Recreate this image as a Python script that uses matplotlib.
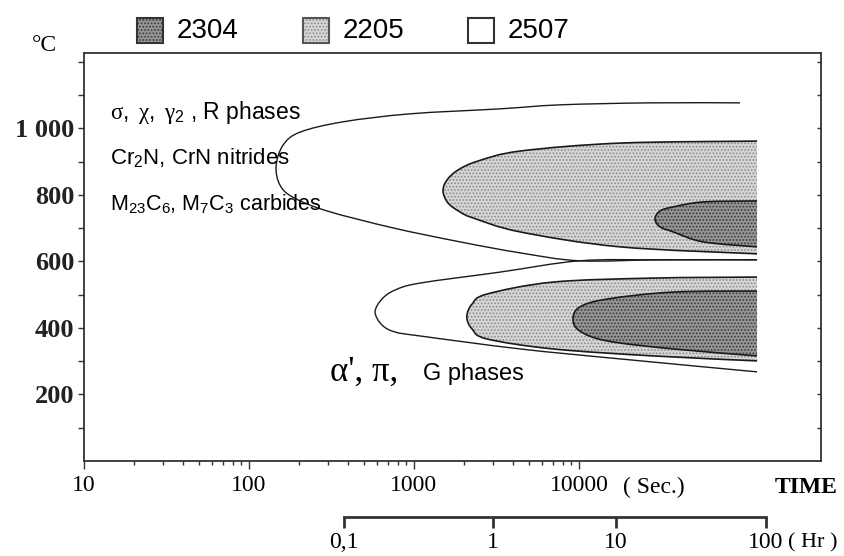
import matplotlib
matplotlib.use("Agg")
import numpy as np
import matplotlib.pyplot as plt
from matplotlib.patches import Rectangle, PathPatch
from matplotlib.path import Path
from matplotlib.ticker import FixedLocator, NullFormatter

plt.rcParams['mathtext.fontset'] = 'custom'
plt.rcParams['mathtext.rm'] = 'Liberation Sans'
plt.rcParams['mathtext.it'] = 'Liberation Serif'
plt.rcParams['mathtext.bf'] = 'Liberation Sans:bold'
plt.rcParams['hatch.linewidth'] = 0.8

# time in seconds, temperature in degC (nose first, then towards long times)
u2507_top_t = [146, 161, 204, 372, 946, 3320, 7670, 26900, 94600]
u2507_top_T = [887, 950, 989, 1020, 1044, 1059, 1071, 1077, 1077]
u2507_bot_t = [146, 154, 185, 297, 746, 1900, 4390, 10100, 31000, 120000]
u2507_bot_T = [887, 830, 793, 752, 701, 659, 626, 602, 605, 605]

u2205_top_t = [1500, 1585, 1848, 2443, 4390, 17700, 120000]
u2205_top_T = [812, 845, 875, 902, 932, 956, 962]
u2205_bot_t = [1500, 1607, 1900, 2280, 4390, 17700, 120000]
u2205_bot_T = [812, 776, 749, 731, 689, 644, 623]

u2304_top_t = [28900, 31000, 37200, 56500, 120000]
u2304_top_T = [728, 752, 764, 779, 782]
u2304_bot_t = [28900, 31000, 37200, 56500, 120000]
u2304_bot_T = [728, 704, 689, 659, 644]

l2507_top_t = [581, 640, 767, 1087, 3320, 10100, 31000, 120000]
l2507_top_T = [448, 487, 514, 535, 568, 602, 605, 605]
l2507_bot_t = [581, 640, 767, 1087, 4390, 17700, 120000]
l2507_bot_T = [448, 409, 388, 376, 337, 307, 268]

l2205_top_t = [2090, 2250, 2770, 6950, 28100, 120000]
l2205_top_T = [433, 472, 502, 538, 550, 553]
l2205_bot_t = [2090, 2250, 2770, 6950, 28100, 120000]
l2205_bot_T = [433, 397, 367, 337, 316, 301]

l2304_top_t = [9200, 10100, 14800, 37200, 120000]
l2304_top_T = [427, 463, 487, 508, 511]
l2304_bot_t = [9200, 10100, 14800, 37200, 120000]
l2304_bot_T = [427, 391, 361, 337, 316]

grades = ['2304', '2205', '2507']
sec_ticks = [10, 100, 1000, 10000]
sec_labels = ['10', '100', '1000', '10000']
temp_ticks = [200, 400, 600, 800, 1000]
temp_labels = ['200', '400', '600', '800', '1 000']
hr_labels = ['0,1', '1', '10', '100']
hr_tick_sec = [377, 3010, 16700, 136000]   # where the hour marks sit on the time scale

styles = {
    '2304': dict(fc='#959595', hc='#383838'),
    '2205': dict(fc='#d6d6d6', hc='#8a8a8a'),
    '2507': dict(fc='white', hc='white'),
}
line_col = '#1a1a1a'

fig = plt.figure(figsize=(8.45, 5.56), dpi=100)
ax = fig.add_axes([0.0994, 0.1709, 0.8722, 0.7338])


def smooth_path(ts, Ts):
    # Catmull-Rom through the read points, done in (log t, T) space
    P = np.column_stack([np.log10(ts), np.asarray(Ts, float)])
    n = len(P)
    verts, codes = [P[0]], [Path.MOVETO]
    for i in range(n - 1):
        p0, p1, p2, p3 = P[max(i - 1, 0)], P[i], P[i + 1], P[min(i + 2, n - 1)]
        verts += [p1 + (p2 - p0) / 6, p2 - (p3 - p1) / 6, p2]
        codes += [Path.CURVE4] * 3
    verts = np.array(verts)
    verts[:, 0] = 10 ** verts[:, 0]
    return Path(verts, codes)


def region(top_t, top_T, bot_t, bot_T, grade, lw=1.2):
    st = styles[grade]
    path = smooth_path(top_t[::-1] + bot_t[1:], top_T[::-1] + bot_T[1:])
    if grade != '2507':
        ax.add_patch(PathPatch(path, facecolor=st['fc'], edgecolor=st['hc'],
                               hatch='.....', linewidth=0))
    ax.add_patch(PathPatch(path, fill=False, edgecolor=line_col, linewidth=lw))


region(u2507_top_t, u2507_top_T, u2507_bot_t, u2507_bot_T, '2507', lw=1.0)
region(l2507_top_t, l2507_top_T, l2507_bot_t, l2507_bot_T, '2507', lw=1.0)
region(u2205_top_t, u2205_top_T, u2205_bot_t, u2205_bot_T, '2205')
region(l2205_top_t, l2205_top_T, l2205_bot_t, l2205_bot_T, '2205')
region(u2304_top_t, u2304_top_T, u2304_bot_t, u2304_bot_T, '2304')
region(l2304_top_t, l2304_top_T, l2304_bot_t, l2304_bot_T, '2304')

ax.set_xscale('log')
ax.set_xlim(10, 293000)
ax.set_ylim(0, 1227)

for s in ax.spines.values():
    s.set_color('#333333')
    s.set_linewidth(1.3)

ax.xaxis.set_major_locator(FixedLocator(sec_ticks))
ax.xaxis.set_minor_locator(FixedLocator([k * 10 ** d for d in range(1, 4) for k in range(2, 10)]))
ax.xaxis.set_minor_formatter(NullFormatter())
ax.set_xticklabels(sec_labels, family='Liberation Serif', fontsize=17)
ax.tick_params(axis='x', which='major', direction='out', length=6, width=1, pad=4, color='#333333')
ax.tick_params(axis='x', which='minor', direction='out', length=3, width=1, color='#333333')

ax.yaxis.set_major_locator(FixedLocator(temp_ticks))
ax.yaxis.set_minor_locator(FixedLocator(list(range(100, 1300, 100))))
ax.set_yticklabels(temp_labels, family='Liberation Serif', fontsize=19, fontweight='bold', color='#222222')
ax.tick_params(axis='y', which='both', direction='out', length=4, width=1, pad=3, color='#333333')

# inward ticks on the right spine
axr = ax.twinx()
axr.set_ylim(ax.get_ylim())
axr.yaxis.set_major_locator(FixedLocator(list(range(100, 1300, 100))))
axr.tick_params(axis='y', direction='in', length=3, width=1, labelright=False, color='#333333')
for s in axr.spines.values():
    s.set_visible(False)

# text inside the plot
ax.text(0.035, 0.855, r'$\sigma,\ \chi,\ \gamma_{\rm 2}$ , R phases', transform=ax.transAxes,
        fontsize=16.5, family='Liberation Sans', va='center')
ax.text(0.035, 0.743, r'Cr$_{\rm 2}$N, CrN nitrides', transform=ax.transAxes,
        fontsize=16, family='Liberation Sans', va='center')
ax.text(0.035, 0.632, r'M$_{\rm 23}$C$_{\rm 6}$, M$_{\rm 7}$C$_{\rm 3}$ carbides', transform=ax.transAxes,
        fontsize=15.5, family='Liberation Sans', va='center')
ax.text(0.334, 0.218, "α', π,", transform=ax.transAxes, fontsize=25,
        family='Liberation Serif', va='center')
ax.text(0.46, 0.213, 'G phases', transform=ax.transAxes, fontsize=17,
        family='Liberation Sans', va='center')

# axis captions
fig.text(0.053, 0.918, '°C', family='Liberation Serif', fontsize=17, va='center', ha='center')
fig.text(0.737, 0.124, '( Sec.)', family='Liberation Serif', fontsize=17, va='center')
fig.text(0.917, 0.124, 'TIME', family='Liberation Serif', fontsize=17, fontweight='bold', va='center')

# legend along the top
box_x = [137, 303, 468]
for g, bx in zip(grades, box_x):
    st = styles[g]
    edge = '#333333' if g != '2205' else '#555555'
    fig.patches.append(Rectangle((bx / 845, (556 - 43) / 556), 26 / 845, 25 / 556,
                                 transform=fig.transFigure, facecolor=st['fc'],
                                 edgecolor=st['hc'], hatch='.....' if g != '2507' else None,
                                 linewidth=0))
    fig.patches.append(Rectangle((bx / 845, (556 - 43) / 556), 26 / 845, 25 / 556,
                                 transform=fig.transFigure, facecolor='none',
                                 edgecolor=edge, linewidth=1.5))
    fig.text((bx + 40) / 845, (556 - 31) / 556, g, family='Liberation Sans',
             fontsize=20, va='center')

# hours scale under the time axis
axh = fig.add_axes([0.0994, 0.0701, 0.8722, 0.01])
axh.set_xscale('log')
axh.set_xlim(ax.get_xlim())
axh.patch.set_visible(False)
for k in ['top', 'left', 'right']:
    axh.spines[k].set_visible(False)
axh.spines['bottom'].set_bounds(hr_tick_sec[0], hr_tick_sec[-1])
axh.spines['bottom'].set_linewidth(2)
axh.spines['bottom'].set_color('#333333')
axh.set_yticks([])
axh.xaxis.set_major_locator(FixedLocator(hr_tick_sec))
axh.xaxis.set_minor_locator(FixedLocator([]))
axh.set_xticklabels(hr_labels, family='Liberation Serif', fontsize=17)
axh.tick_params(axis='x', direction='out', length=8, width=2, pad=3, color='#333333')
fig.text(0.933, 0.0235, '( Hr )', family='Liberation Serif', fontsize=16, va='center')

fig.savefig('out.png', dpi=100)
